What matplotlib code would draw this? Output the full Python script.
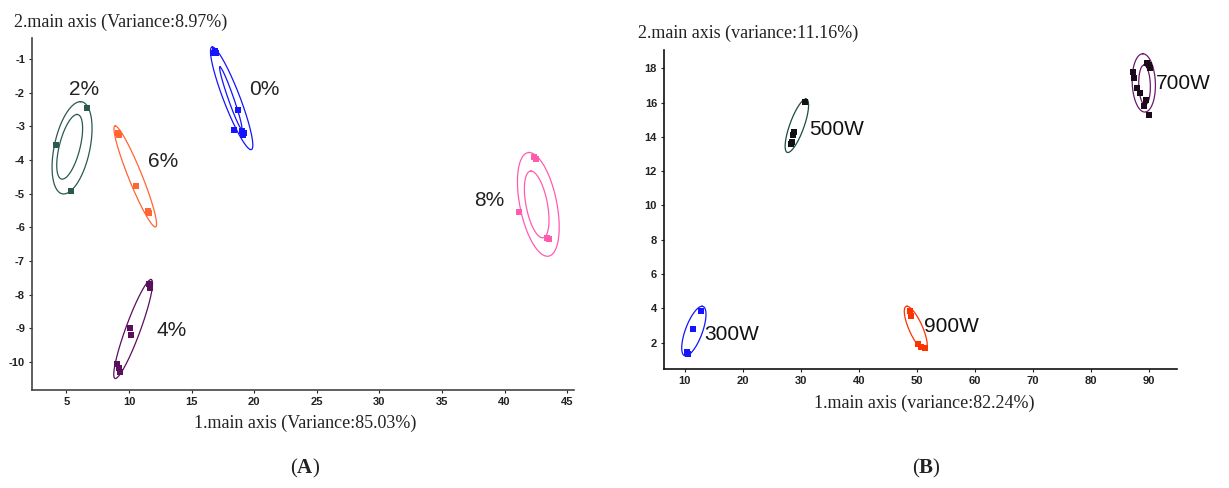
import numpy as np
import matplotlib
matplotlib.use("Agg")
import matplotlib.pyplot as plt

plt.rcParams['axes.unicode_minus'] = False
plt.rcParams['mathtext.fontset'] = 'custom'
plt.rcParams['mathtext.rm'] = 'Liberation Serif'
plt.rcParams['mathtext.bf'] = 'Liberation Serif:bold'

# ---- panel A: microwave power share groups ----
a_names = ["0%", "2%", "6%", "8%", "4%"]
a_colors = ["#1414ff", "#2b5950", "#ff6633", "#ff5cb0", "#5a0f5f"]
a_pts_x = [
    [16.69, 16.87, 16.95, 18.68, 18.39, 19.00, 19.18, 19.08],
    [6.65, 4.18, 5.37],
    [9.09, 9.17, 10.58, 11.48, 11.56],
    [42.37, 42.50, 41.18, 43.43, 43.57],
    [11.56, 11.64, 10.04, 10.18, 9.04, 9.17, 9.30],
]
a_pts_y = [
    [-0.82, -0.78, -0.84, -2.52, -3.11, -3.14, -3.21, -3.27],
    [-2.47, -3.57, -4.92],
    [-3.19, -3.27, -4.77, -5.51, -5.58],
    [-3.90, -3.96, -5.54, -6.33, -6.35],
    [-7.68, -7.80, -8.99, -9.21, -10.07, -10.19, -10.29],
]
# ellipses: center, offset to the top point, half width at center height
a_ell_group = [0, 0, 1, 1, 2, 3, 3, 4]
a_ell_cx = [18.20, 18.13, 5.45, 5.26, 10.50, 42.70, 42.57, 10.33]
a_ell_cy = [-2.17, -2.16, -3.64, -3.61, -4.49, -5.32, -5.32, -9.02]
a_ell_tx = [-1.54, -0.86, 0.67, 0.59, -1.60, -0.73, -0.46, 1.42]
a_ell_ty = [1.525, 0.92, 1.37, 0.96, 1.50, 1.54, 0.99, 1.47]
a_ell_hw = [0.70, 0.23, 1.45, 0.85, 0.58, 1.50, 0.87, 0.62]
a_lab_x = [20.78, 6.37, 12.75, 38.77, 13.42]
a_lab_y = [-1.91, -1.91, -4.06, -5.21, -9.05]
a_xticks = [5, 10, 15, 20, 25, 30, 35, 40, 45]
a_yticks = [-1, -2, -3, -4, -5, -6, -7, -8, -9, -10]

# ---- panel B: microwave power groups ----
b_names = ["500W", "700W", "300W", "900W"]
b_colors = ["#1d4a43", "#6b1a6e", "#1414ff", "#ff3300"]
b_pt_colors = ["#111111", "#1a0a1a", "#1414ff", "#ff3300"]
b_pts_x = [
    [30.74, 28.76, 28.63, 28.43, 28.30],
    [89.66, 89.99, 87.35, 87.49, 88.00, 88.47, 89.53, 89.13, 89.99, 90.18],
    [12.76, 11.32, 10.33, 10.53],
    [48.84, 48.97, 50.15, 50.82, 51.47],
]
b_pts_y = [
    [16.06, 14.31, 14.11, 13.73, 13.60],
    [18.33, 18.19, 17.81, 17.42, 16.83, 16.54, 16.16, 15.81, 15.28, 18.00],
    [3.87, 2.79, 1.45, 1.31],
    [3.87, 3.53, 1.90, 1.76, 1.70],
]
b_ell_group = [0, 1, 1, 2, 3]
b_ell_cx = [29.32, 89.17, 89.30, 11.55, 49.83]
b_ell_cy = [14.65, 17.15, 17.03, 2.67, 2.84]
b_ell_tx = [1.55, -0.17, -0.10, 1.41, -1.52]
b_ell_ty = [1.56, 1.70, 1.16, 1.45, 1.28]
b_ell_hw = [1.30, 2.00, 1.00, 1.55, 1.27]
b_lab_x = [31.4, 91.3, 13.29, 51.34]
b_lab_y = [14.41, 17.13, 2.49, 2.94]
b_xticks = [10, 20, 30, 40, 50, 60, 70, 80, 90]
b_yticks = [2, 4, 6, 8, 10, 12, 14, 16, 18]

W, H = 1229, 488


def draw_ellipse(ax, cx, cy, tx, ty, hw, color):
    # top point and horizontal half chord are conjugate semi-diameters
    t = np.linspace(0, 2 * np.pi, 200)
    ax.plot(cx + tx * np.cos(t) + hw * np.sin(t), cy + ty * np.cos(t),
            color=color, lw=0.9)


def style_axes(ax, spine_color):
    for s in ["top", "right"]:
        ax.spines[s].set_visible(False)
    for s in ["left", "bottom"]:
        ax.spines[s].set_color(spine_color)
        ax.spines[s].set_linewidth(1.2)
    ax.tick_params(length=2, width=0.8, colors="#222222", labelsize=8, pad=3)
    for lab in ax.get_xticklabels() + ax.get_yticklabels():
        lab.set_fontweight("bold")
        lab.set_family("Liberation Sans")


fig = plt.figure(figsize=(W / 100, H / 100), dpi=100)

# panel A
axA = fig.add_axes([32 / W, (H - 390) / H, (574 - 32) / W, (390 - 38) / H])
for g in range(len(a_names)):
    axA.scatter(a_pts_x[g], a_pts_y[g], s=14, marker="s", color=a_colors[g],
                linewidths=0, zorder=3)
    axA.text(a_lab_x[g], a_lab_y[g], a_names[g], fontsize=15, ha="center",
             va="center", color="#222222", family="Liberation Sans")
for i, g in enumerate(a_ell_group):
    draw_ellipse(axA, a_ell_cx[i], a_ell_cy[i], a_ell_tx[i], a_ell_ty[i],
                 a_ell_hw[i], a_colors[g])
axA.set_xlim(2.25, 45.55)
axA.set_ylim(-10.83, -0.38)
axA.set_xticks(a_xticks)
axA.set_yticks(a_yticks)
style_axes(axA, "#444444")

# panel B
axB = fig.add_axes([664 / W, (H - 369) / H, (1177 - 664) / W, (369 - 50) / H])
for g in range(len(b_names)):
    axB.scatter(b_pts_x[g], b_pts_y[g], s=14, marker="s", color=b_pt_colors[g],
                linewidths=0, zorder=3)
    axB.text(b_lab_x[g], b_lab_y[g], b_names[g], fontsize=15, ha="left",
             va="center", color="#111111", family="Liberation Sans")
for i, g in enumerate(b_ell_group):
    draw_ellipse(axB, b_ell_cx[i], b_ell_cy[i], b_ell_tx[i], b_ell_ty[i],
                 b_ell_hw[i], b_colors[g])
axB.set_xlim(6.4, 94.9)
axB.set_ylim(0.46, 19.07)
axB.set_xticks(b_xticks)
axB.set_yticks(b_yticks)
style_axes(axB, "#111111")

# axis titles
serif = dict(family="Liberation Serif", color="#222222")
fig.text(14 / W, 1 - 22 / H, "2.main axis (Variance:8.97%)", fontsize=13,
         ha="left", va="center", **serif)
fig.text(305 / W, 1 - 423 / H, "1.main axis (Variance:85.03%)", fontsize=13,
         ha="center", va="center", **serif)
fig.text(638 / W, 1 - 33 / H, "2.main axis (variance:11.16%)", fontsize=13,
         ha="left", va="center", **serif)
fig.text(924 / W, 1 - 403 / H, "1.main axis (variance:82.24%)", fontsize=13,
         ha="center", va="center", **serif)
fig.text(305 / W, 1 - 468 / H, r"($\mathbf{A}$)", fontsize=15, ha="center",
         va="center", **serif)
fig.text(926 / W, 1 - 468 / H, r"($\mathbf{B}$)", fontsize=15, ha="center",
         va="center", **serif)

fig.savefig("out.png", dpi=100)
